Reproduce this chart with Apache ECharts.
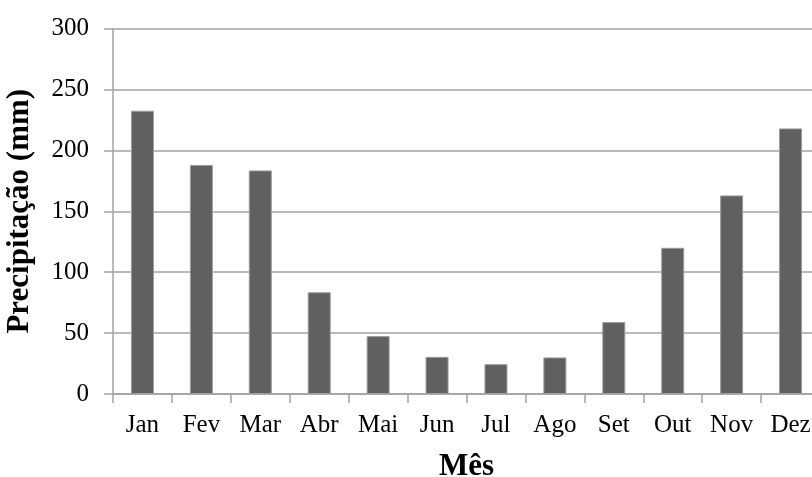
<!DOCTYPE html>
<html>
<head>
<meta charset="utf-8">
<script src="https://cdn.jsdelivr.net/npm/echarts@6/dist/echarts.min.js"></script>
<style>
  html, body { margin: 0; padding: 0; background: #ffffff; }
  #chart { width: 812px; height: 477px; }
</style>
</head>
<body>
<div id="chart"></div>
<script>
// Monthly precipitation (mm)
const months = ['Jan', 'Fev', 'Mar', 'Abr', 'Mai', 'Jun', 'Jul', 'Ago', 'Set', 'Out', 'Nov', 'Dez'];
const precipitation = [232.5, 188, 183.5, 83.5, 47.5, 30.5, 24.5, 30, 59, 120, 163, 218];
const yTicks = [0, 50, 100, 150, 200, 250, 300];

const serif = '"Liberation Serif", "Times New Roman", serif';
const gridGray = '#a3a3a3';

const chart = echarts.init(document.getElementById('chart'));
chart.setOption({
  animation: false,
  backgroundColor: '#ffffff',
  grid: {
    left: 113, right: -8, top: 28.5, bottom: 83,
    containLabel: false,
    outerBoundsMode: 'none'
  },
  xAxis: {
    type: 'category',
    data: months,
    name: 'Mês',
    nameLocation: 'middle',
    nameGap: 57,
    nameTextStyle: { fontFamily: serif, fontWeight: 'bold', fontSize: 31, color: '#000' },
    axisLine: { show: true, lineStyle: { color: gridGray, width: 1.5 } },
    axisTick: { show: true, length: 9, alignWithLabel: false, lineStyle: { color: gridGray, width: 1.5 } },
    axisLabel: { fontFamily: serif, fontSize: 25, color: '#000', margin: 19, interval: 0 },
    splitLine: { show: false }
  },
  yAxis: {
    type: 'value',
    min: yTicks[0],
    max: yTicks[yTicks.length - 1],
    interval: yTicks[1] - yTicks[0],
    name: 'Precipitação (mm)',
    nameLocation: 'middle',
    nameGap: 78,
    nameRotate: 90,
    nameTextStyle: { fontFamily: serif, fontWeight: 'bold', fontSize: 31, color: '#000' },
    axisLine: { show: true, lineStyle: { color: gridGray, width: 1.5 } },
    axisTick: { show: true, length: 9, inside: false, lineStyle: { color: gridGray, width: 1.5 } },
    axisLabel: { fontFamily: serif, fontSize: 25, color: '#000', margin: 24 },
    splitLine: { show: true, lineStyle: { color: gridGray, width: 1.5 } }
  },
  series: [{
    type: 'bar',
    data: precipitation,
    barWidth: 23,
    itemStyle: { color: '#606060', borderColor: '#9c9c9c', borderWidth: 1 }
  }]
});
</script>
</body>
</html>
